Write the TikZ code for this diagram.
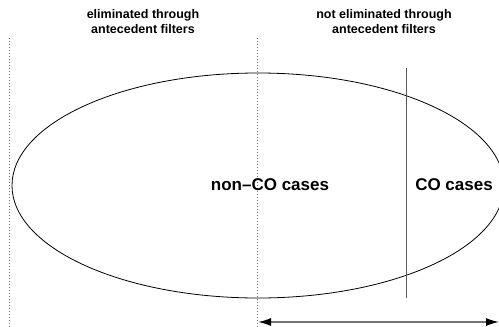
\documentclass[tikz,border=0pt]{standalone}
\usepackage{fontspec}
\setmainfont{Liberation Sans}
\usetikzlibrary{arrows.meta}
\begin{document}
\begin{tikzpicture}[x=1pt,y=-1pt,
  headtext/.style={font=\bfseries\fontsize{12.5}{15}\selectfont,align=center,inner sep=0pt},
  casetext/.style={font=\bfseries\fontsize{17}{20}\selectfont,inner sep=0pt},
  boundary/.style={black!55,line width=0.8pt,dash pattern=on 0.9pt off 2.1pt},
  divider/.style={black!65,line width=1pt},
  span/.style={black!55,line width=1.5pt,{Latex[length=13pt,width=8pt,black]}-{Latex[length=13pt,width=8pt,black]}}]
\clip (0,0) rectangle (499,327);
\useasboundingbox (0,0) rectangle (499,327);
% column headings
\node[headtext] (elim) at (143,21.5) {eliminated through\\antecedent filters};
\node[headtext] (notelim) at (384,21.5) {not eliminated through\\antecedent filters};
% dotted column boundaries
\coordinate (lt) at (9.5,38);
\coordinate (lb) at (9.5,327);
\coordinate (mt) at (257.5,38);
\coordinate (mb) at (257.5,327);
\draw[boundary] (lt) -- (lb);
\draw[boundary] (mt) -- (mb);
% set of all cases
\draw[line width=0.8pt] (258,185.5) ellipse [x radius=246, y radius=112.5];
% split between non-CO and CO cases
\coordinate (dt) at (406,68);
\coordinate (db) at (406,298);
\draw[divider] (dt) -- (db);
\node[casetext] (nonco) at (270,185) {non\textendash CO cases};
\node[casetext] (co) at (454,185) {CO cases};
% range of cases kept by the filters
\coordinate (al) at (258,322);
\coordinate (ar) at (499,322);
\draw[span] (al) -- (ar);
\end{tikzpicture}
\end{document}
